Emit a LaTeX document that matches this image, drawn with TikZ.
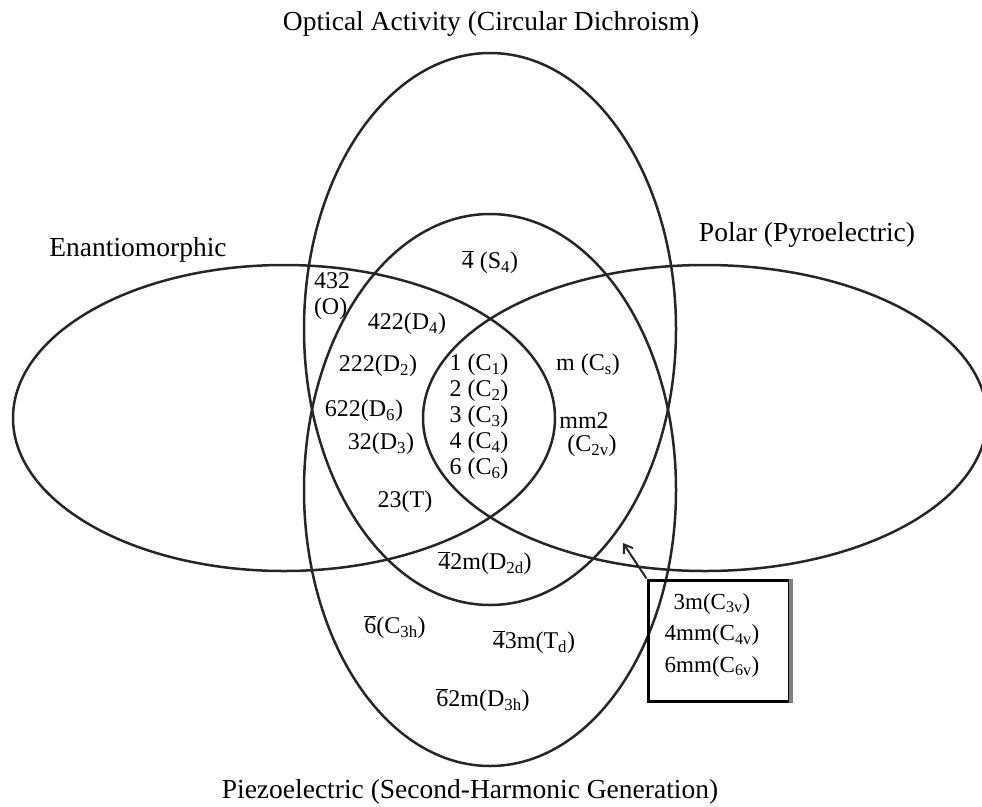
\documentclass[tikz,border=0pt]{standalone}
\usepackage{fontspec}
\setmainfont{Liberation Serif}
\usetikzlibrary{arrows.meta}
\newcommand{\ob}[1]{$\overline{\mbox{#1}}$}
\newcommand{\sbs}[1]{\textsubscript{#1}}
\begin{document}
\begin{tikzpicture}[x=1pt,y=-1pt,
  venn/.style={draw=black!85, line width=2.5pt},
  title/.style={font=\fontsize{27.5}{30}\selectfont, inner sep=0pt},
  cls/.style={font=\fontsize{24}{26}\selectfont, inner sep=0pt, align=center},
  boxstyle/.style={draw=black, line width=3pt, minimum width=141pt, minimum height=121pt, inner sep=0pt},
  pointer/.style={draw=black!85, line width=2pt, -{Straight Barb[length=8pt,width=11pt]}}]
\useasboundingbox (0,0) rectangle (982,806);
\begin{scope}
\clip (0,0) rectangle (982,806);
% set ellipses
\draw[venn] (490,329) ellipse [x radius=186pt, y radius=276pt]; % optical activity
\draw[venn] (490,490) ellipse [x radius=186pt, y radius=276pt]; % piezoelectric
\draw[venn] (284,418) ellipse [x radius=271pt, y radius=153pt]; % enantiomorphic
\draw[venn] (705,418) ellipse [x radius=282pt, y radius=153pt]; % polar
\end{scope}
% titles
\node[title] (toptitle) at (491,24) {Optical Activity (Circular Dichroism)};
\node[title] (lefttitle) at (138,250) {Enantiomorphic};
\node[title] (righttitle) at (807,235) {Polar (Pyroelectric)};
\node[title] (bottitle) at (470,792) {Piezoelectric (Second-Harmonic Generation)};
% classes
\node[cls] (s4) at (490,262) {\ob{4} (S\sbs{4})};
\node[cls, align=left] (o) at (332,296) {432\\(O)};
\node[cls] (d4) at (407,324) {422(D\sbs{4})};
\node[cls] (d2) at (378,366) {222(D\sbs{2})};
\node[cls] (d6) at (364,411) {622(D\sbs{6})};
\node[cls] (d3) at (381,444) {32(D\sbs{3})};
\node[cls] (cn) at (479,417) {1 (C\sbs{1})\\2 (C\sbs{2})\\3 (C\sbs{3})\\4 (C\sbs{4})\\6 (C\sbs{6})};
\node[cls] (cs) at (588,365) {m (C\sbs{s})};
\node[cls] (mm2) at (584,421) {mm2};
\node[cls] (c2v) at (592,446) {(C\sbs{2v})};
\node[cls] (t) at (405,502) {23(T)};
\node[cls] (d2d) at (485,563) {\ob{4}2m(D\sbs{2d})};
\node[cls] (c3h) at (395,627) {\ob{6}(C\sbs{3h})};
\node[cls] (td) at (534,642) {\ob{4}3m(T\sbs{d})};
\node[cls] (d3h) at (483,700) {\ob{6}2m(D\sbs{3h})};
% box
\node[boxstyle] (box) at (718.5,640.5) {};
\draw[gray, line width=4pt] (box.north east) -- (box.south east);
\node[cls, font=\fontsize{23}{31.5}\selectfont] (boxtext) at (712,635) {3m(C\sbs{3v})\\4mm(C\sbs{4v})\\6mm(C\sbs{6v})};
\coordinate (tip) at (623,543);
\draw[pointer] (box.north west) -- (tip);
\end{tikzpicture}
\end{document}
